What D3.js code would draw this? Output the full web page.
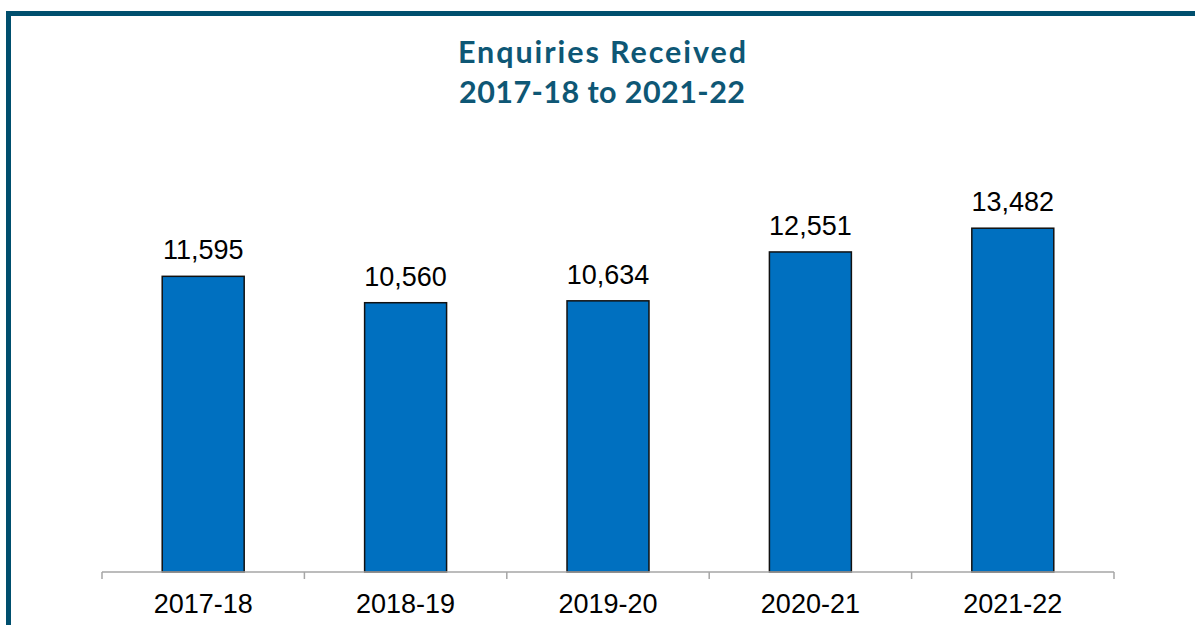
<!DOCTYPE html>
<html>
<head>
<meta charset="utf-8">
<script src="https://cdn.jsdelivr.net/npm/d3@7"></script>
<style>
  html, body { margin: 0; padding: 0; background: #ffffff; }
  svg { display: block; }
</style>
</head>
<body>
<svg id="chart" width="1195" height="625"></svg>
<script>
// Enquiries received per financial year
const years = ["2017-18", "2018-19", "2019-20", "2020-21", "2021-22"];
const enquiries = [11595, 10560, 10634, 12551, 13482];
const titleLines = ["Enquiries Received", "2017-18 to 2021-22"];
const titleWidths = [288, 286];

const svg = d3.select("#chart");
const W = 1195, H = 625;
const axisY = 572;

// frame: heavy rule along the top and left edges
svg.append("rect").attr("x", 6).attr("y", 11).attr("width", W - 6).attr("height", 5).attr("fill", "#004f6e");
svg.append("rect").attr("x", 6).attr("y", 11).attr("width", 5).attr("height", H - 11).attr("fill", "#004f6e");

// title, two centred lines
svg.append("g").selectAll("text")
  .data(titleLines)
  .join("text")
  .attr("x", 602)
  .attr("y", (d, i) => 63 + i * 40)
  .attr("text-anchor", "middle")
  .attr("textLength", (d, i) => titleWidths[i])
  .attr("lengthAdjust", "spacing")
  .attr("fill", "#0e5775")
  .style("font-family", "Lato, 'Open Sans', sans-serif")
  .style("font-weight", 700)
  .style("font-size", "30.5px")
  .text((d) => d);

const x = d3.scaleBand().domain(years).range([102, 1114]).padding(0);
const y = d3.scaleLinear().domain([0, 16000]).range([axisY, 164]);
const barW = x.bandwidth() * 0.405;

// bars
svg.append("g").selectAll("rect")
  .data(years)
  .join("rect")
  .attr("x", (d) => x(d) + (x.bandwidth() - barW) / 2)
  .attr("y", (d, i) => y(enquiries[i]))
  .attr("width", barW)
  .attr("height", (d, i) => axisY - y(enquiries[i]))
  .attr("fill", "#0070c0")
  .attr("stroke", "#111111")
  .attr("stroke-width", 1.5);

// value labels
const fmt = d3.format(",");
svg.append("g").selectAll("text")
  .data(years)
  .join("text")
  .attr("x", (d) => x(d) + x.bandwidth() / 2)
  .attr("y", (d, i) => y(enquiries[i]) - 17)
  .attr("text-anchor", "middle")
  .attr("fill", "#000")
  .style("font-family", "Arial, 'Liberation Sans', sans-serif")
  .style("font-size", "27px")
  .text((d, i) => fmt(enquiries[i]));

// category axis with tick marks between bars
const axis = svg.append("g").attr("transform", `translate(0,${axisY})`);
axis.append("line").attr("x1", 102).attr("x2", 1114).attr("stroke", "#a6a6a6").attr("stroke-width", 1.5);
const edges = years.map((d) => x(d)).concat([x.range()[1]]);
axis.selectAll("line.tick")
  .data(edges)
  .join("line")
  .attr("class", "tick")
  .attr("x1", (d) => d).attr("x2", (d) => d)
  .attr("y1", 0).attr("y2", 7)
  .attr("stroke", "#a6a6a6").attr("stroke-width", 1.5);
axis.selectAll("text")
  .data(years)
  .join("text")
  .attr("x", (d) => x(d) + x.bandwidth() / 2)
  .attr("y", 41)
  .attr("text-anchor", "middle")
  .attr("fill", "#000")
  .style("font-family", "Arial, 'Liberation Sans', sans-serif")
  .style("font-size", "27px")
  .text((d) => d);
</script>
</body>
</html>
